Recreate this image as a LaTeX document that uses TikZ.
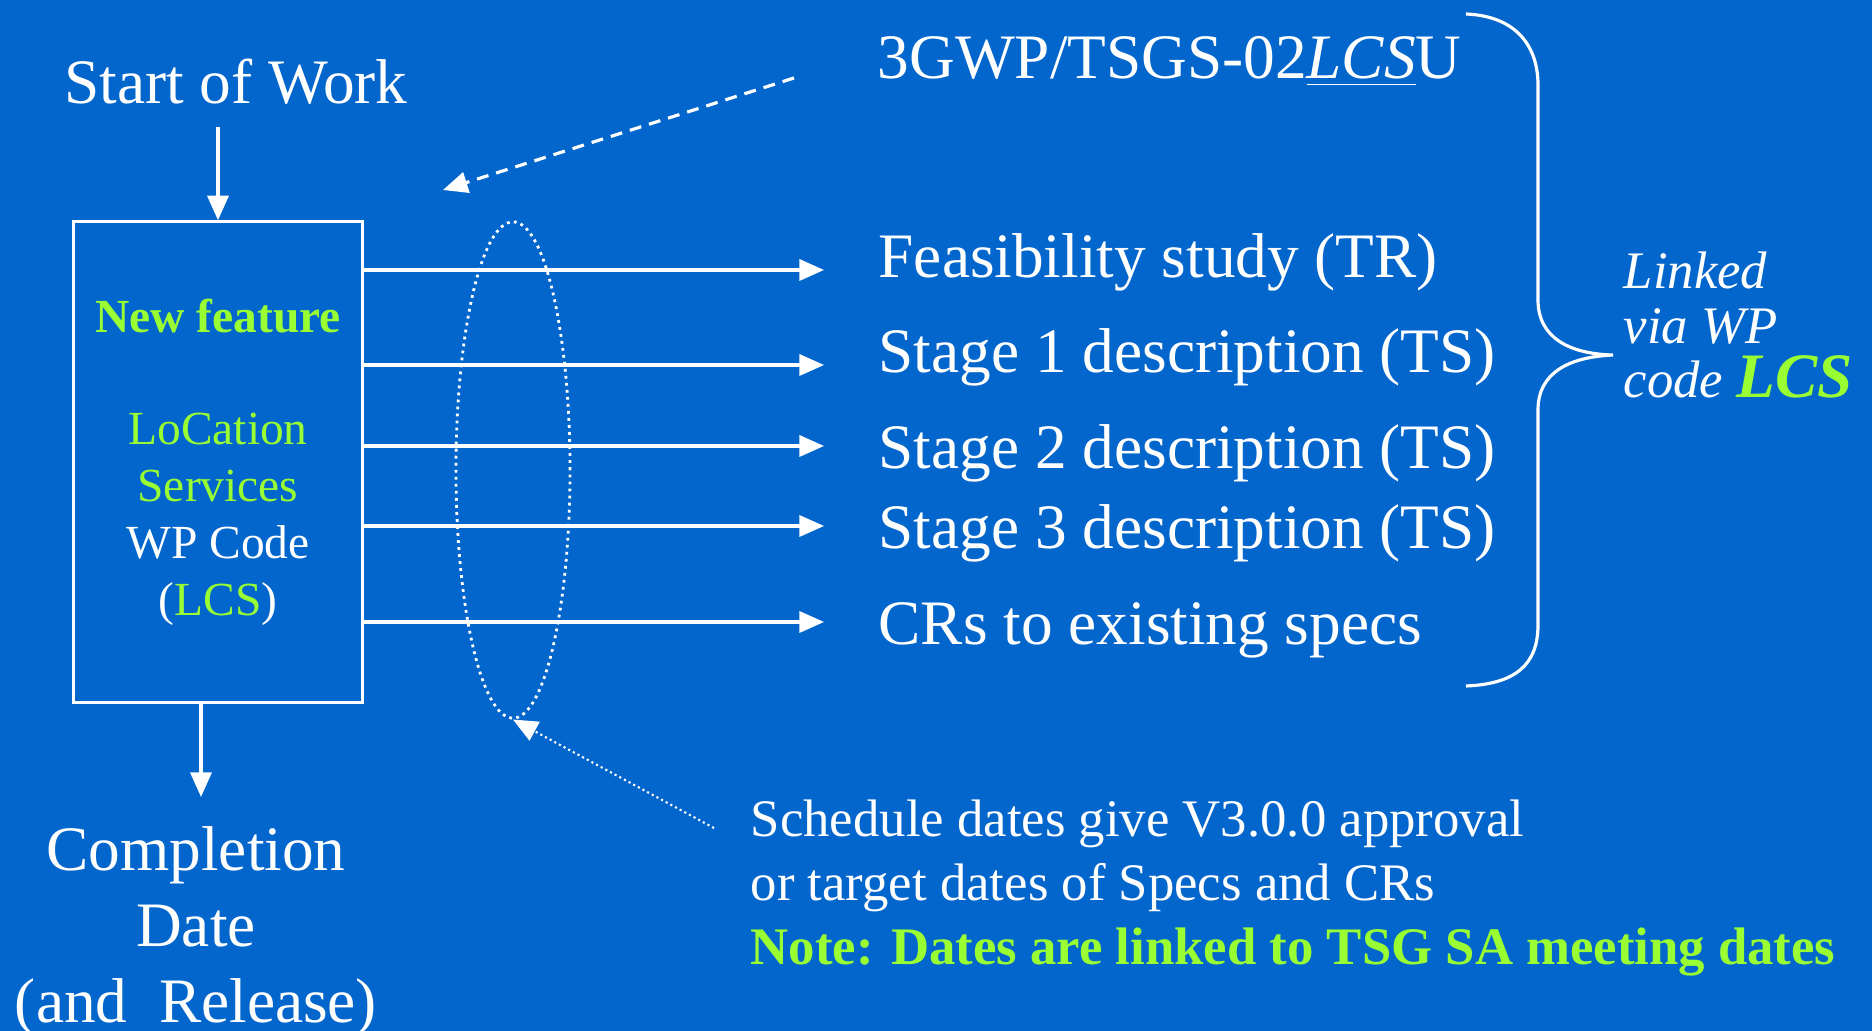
\documentclass[tikz,border=0pt]{standalone}
\usepackage{fontspec}
\setmainfont{Liberation Serif}
\usetikzlibrary{arrows.meta,shapes.geometric,positioning}
\definecolor{slideblue}{RGB}{3,102,204}
\definecolor{lcsgreen}{RGB}{153,255,51}
\tikzset{
  big/.style={font=\fontsize{18}{21.6}\selectfont, text=white, inner sep=0pt},
  small/.style={font=\fontsize{15}{18.2}\selectfont, text=white, inner sep=0pt},
  link/.style={draw=white, line width=0.9pt, -{Triangle[length=7pt,width=6pt]}},
}
\begin{document}
\begin{tikzpicture}[x=0.01cm,y=-0.01cm]
  % background
  \fill[slideblue] (0,0) rectangle (1872,1031);
  \useasboundingbox (0,0) rectangle (1872,1031);
  % work item
  \node[big, anchor=base] (start) at (236,104) {Start of Work};
  \node[draw=white, line width=0.9pt, minimum width=2.88cm, minimum height=4.8cm,
        align=center, text=lcsgreen, font=\fontsize{13.5}{16.2}\selectfont] (feat) at (218,462)
    {\textbf{New feature}\\[15.7pt] LoCation\\ Services\\ \textcolor{white}{WP Code}\\
     \textcolor{white}{(}LCS\textcolor{white}{)}};
  \node[big, align=center, anchor=base] (done) at (196,1022) {Completion\\ Date\\ (and~~Release)};
  \draw[link, shorten <=6pt] (feat.north |- start.south) -- (feat.north);
  \coordinate (out) at (201,797);
  \draw[link] (feat.south -| out) -- (out);
  % outputs
  \node[big, anchor=base west] (code) at (877,79) {3GWP/TSGS-02\underline{\textit{LCS}}U};
  \node[big, anchor=base west] (tr) at (878,278) {Feasibility study (TR)};
  \node[big, anchor=base west] (ts1) at (878,373) {Stage 1 description (TS)};
  \node[big, anchor=base west] (ts2) at (878,469) {Stage 2 description (TS)};
  \node[big, anchor=base west] (ts3) at (878,549) {Stage 3 description (TS)};
  \node[big, anchor=base west] (crs) at (878,645) {CRs to existing specs};
  \foreach \y [count=\i] in {270,365,446,526,622} {
    \coordinate (tip\i) at (824,\y);
    \draw[link] (feat.east |- tip\i) -- (tip\i);
  }
  % code pointer
  \coordinate (from3g) at (794,78);
  \coordinate (to3g) at (443,190);
  \draw[link, dash pattern=on 3.4pt off 2.3pt] (from3g) -- (to3g);
  % schedule group
  \node[ellipse, draw=white, line width=0.8pt, dash pattern=on 0.8pt off 1.2pt,
        minimum width=1.14cm, minimum height=4.96cm, inner sep=0pt] (group) at (513,470) {};
  \node[small, anchor=base west, align=left] (sched) at (750,965)
    {Schedule dates give V3.0.0 approval\\ or target dates of Specs and CRs\\
     \textcolor{lcsgreen}{\textbf{Note: Dates are linked to TSG SA meeting dates}}};
  \coordinate (schedfoot) at (714,828);
  \draw[white, line width=0.6pt, dash pattern=on 0.6pt off 0.9pt,
        -{Triangle[length=7pt,width=6pt]}] (schedfoot) -- (group.south);
  % brace
  \draw[white, line width=0.9pt] (1466,14) .. controls (1515,16) and (1538,45) .. (1538,85)
    -- (1538,300) .. controls (1538,338) and (1570,354) .. (1613,355)
    .. controls (1570,357) and (1538,372) .. (1538,410)
    -- (1538,625) .. controls (1538,665) and (1515,684) .. (1466,686);
  \node[anchor=base west, align=left, inner sep=0pt, text=white,
        font=\fontsize{15}{15.5}\selectfont\itshape] (linked) at (1623,398)
    {Linked\\ via WP\\ code {\fontsize{18}{15.5}\selectfont\bfseries\color{lcsgreen}LCS}};
\end{tikzpicture}
\end{document}
